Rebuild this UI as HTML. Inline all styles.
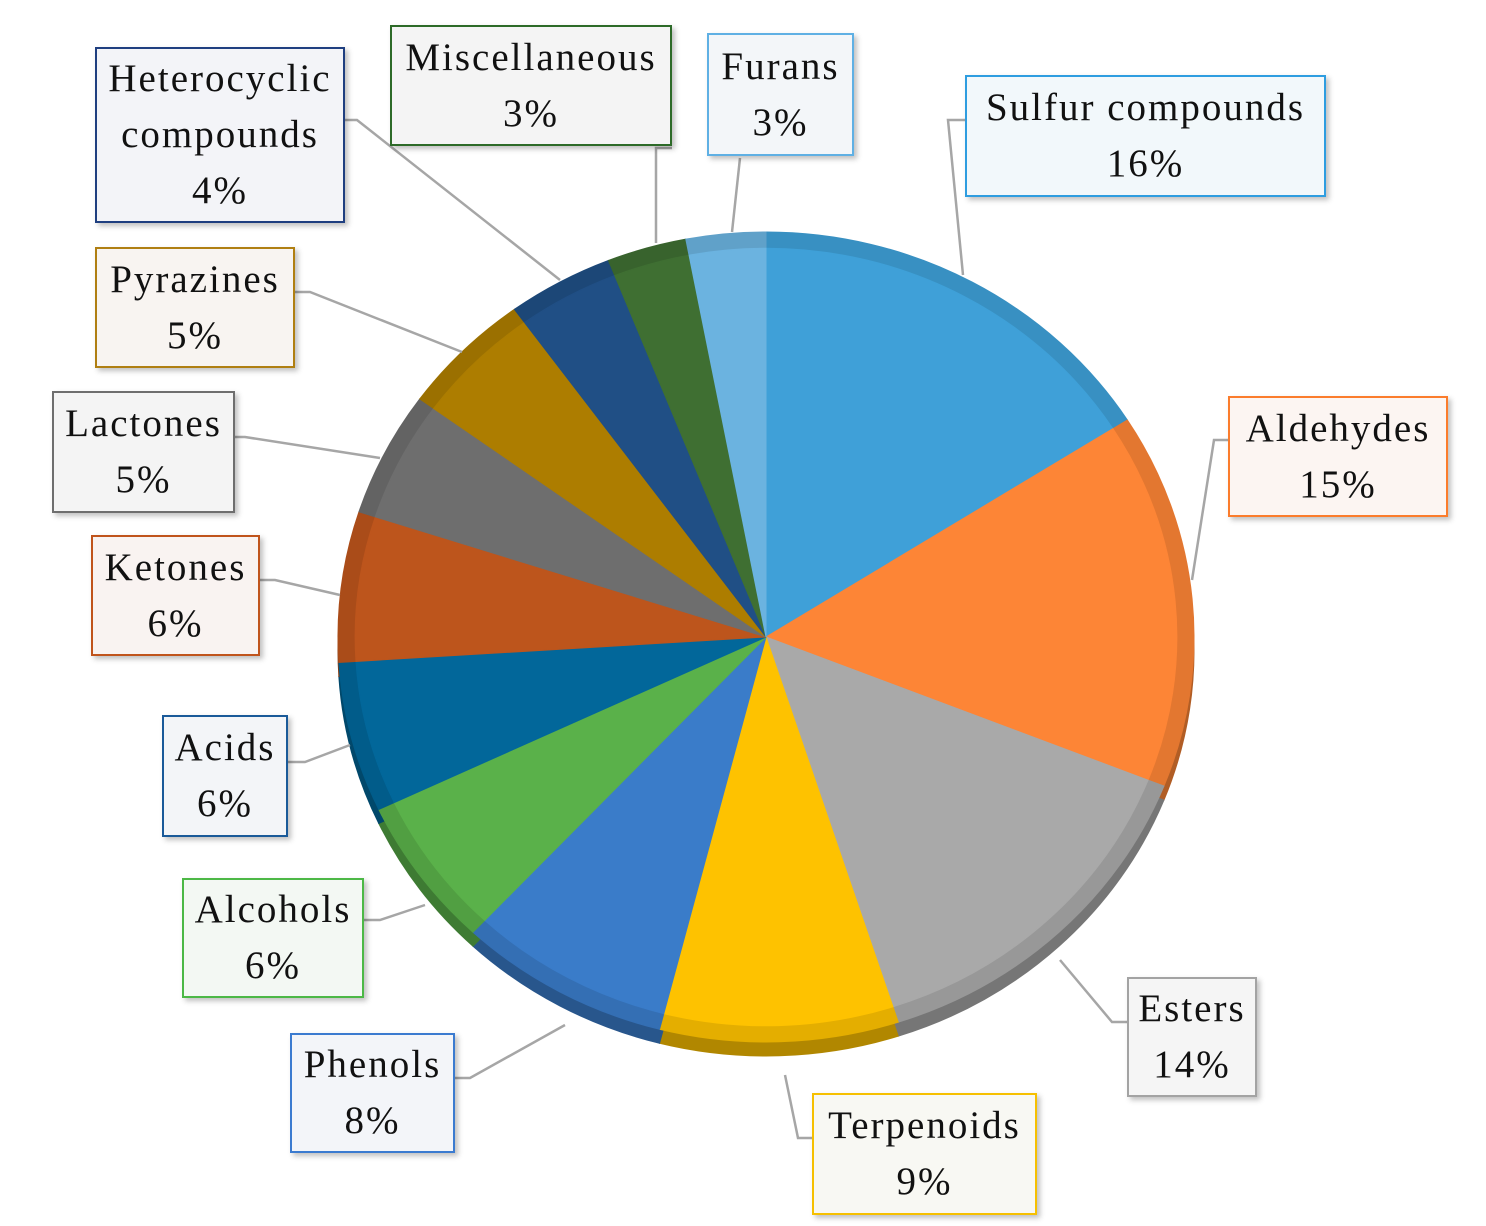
<!DOCTYPE html>
<html><head><meta charset="utf-8">
<style>
html,body{margin:0;padding:0;background:#fff;}
#c{position:relative;width:1486px;height:1226px;overflow:hidden;}
.b{position:absolute;box-sizing:border-box;border:2.5px solid;font-family:"Liberation Serif",serif;font-size:39px;letter-spacing:2px;line-height:56px;text-align:center;color:#111;box-shadow:3px 3px 5px rgba(0,0,0,0.25);display:flex;flex-direction:column;justify-content:center;white-space:nowrap;}
svg{position:absolute;left:0;top:0;}
</style></head><body><div id="c">
<svg id="s" width="1486" height="1226"></svg>
<div class="b" style="left:95px;top:47px;width:250px;height:176px;border-color:#1f3f80;background:#f3f4f8">Heterocyclic<br>compounds<br>4%</div>
<div class="b" style="left:390px;top:25px;width:282px;height:121px;border-color:#2d6a28;background:#f4f4f4">Miscellaneous<br>3%</div>
<div class="b" style="left:707px;top:33px;width:147px;height:123px;border-color:#5fb0e4;background:#f3f6f9">Furans<br>3%</div>
<div class="b" style="left:965px;top:75px;width:361px;height:122px;border-color:#2e9de0;background:#f2f8fb">Sulfur compounds<br>16%</div>
<div class="b" style="left:1228px;top:396px;width:220px;height:121px;border-color:#fb7c2c;background:#fcf5f2">Aldehydes<br>15%</div>
<div class="b" style="left:1127px;top:977px;width:130px;height:120px;border-color:#a3a3a3;background:#f5f5f5">Esters<br>14%</div>
<div class="b" style="left:812px;top:1093px;width:225px;height:122px;border-color:#f6c000;background:#f8f8f3">Terpenoids<br>9%</div>
<div class="b" style="left:290px;top:1033px;width:165px;height:120px;border-color:#3b7bd0;background:#f3f5f9">Phenols<br>8%</div>
<div class="b" style="left:182px;top:878px;width:182px;height:120px;border-color:#4cb846;background:#f3f8f3">Alcohols<br>6%</div>
<div class="b" style="left:162px;top:715px;width:126px;height:122px;border-color:#1a5a99;background:#f3f5f8">Acids<br>6%</div>
<div class="b" style="left:91px;top:535px;width:169px;height:121px;border-color:#c0541c;background:#f9f3f1">Ketones<br>6%</div>
<div class="b" style="left:52px;top:391px;width:183px;height:122px;border-color:#6e6e6e;background:#f4f4f4">Lactones<br>5%</div>
<div class="b" style="left:95px;top:247px;width:200px;height:121px;border-color:#b07f12;background:#f8f4f1">Pyrazines<br>5%</div>
</div>
<script>
var s=document.getElementById('s'),NS='http://www.w3.org/2000/svg';
function el(t,a){var e=document.createElementNS(NS,t);for(var k in a)e.setAttribute(k,a[k]);s.appendChild(e);return e;}
var cx=766,cy=637,rx=428,ry=405;
var d=[[16,'#3fa0d8'],[15,'#fd8536'],[14,'#a9a9a9'],[9,'#fec200'],[8,'#3a7cc9'],[6,'#5ab14a'],[6,'#02679a'],[6,'#bd551c'],[5,'#6e6e6e'],[5,'#ad7d00'],[4,'#204f85'],[3,'#3f6f32'],[3,'#6bb3e0']];
function dark(c,f){var n=parseInt(c.slice(1),16);var r=(n>>16)*f|0,g=((n>>8)&255)*f|0,b=(n&255)*f|0;return 'rgb('+r+','+g+','+b+')';}
function slices(oy,fn,k){var a=0;d.forEach(function(x){var a0=a,a1=a+x[0]*3.6;a=a1;
var p=function(an){var r=an*Math.PI/180;return [cx+k*rx*Math.sin(r),cy+oy-k*ry*Math.cos(r)];};
var p0=p(a0),p1=p(a1);el('path',{d:'M'+cx+','+(cy+oy)+'L'+p0[0]+','+p0[1]+'A'+(k*rx)+','+(k*ry)+' 0 '+(a1-a0>180?1:0)+' 1 '+p1[0]+','+p1[1]+'Z',fill:fn(x[1]),stroke:fn(x[1]),'stroke-width':1});});}
slices(14,function(c){return dark(c,0.7);},1);
slices(0,function(c){return dark(c,0.9);},1);
slices(0,function(c){return c;},0.96);
var L=[[963,275,948,120,965,120],[732,232,740,158,740,158],[656,243,656,148,672,148],[560,280,357,120,345,120],[462,352,310,292,295,292],[380,458,245,437,235,437],[340,595,275,580,260,580],[350,745,305,762,288,762],[425,905,380,920,364,920],[565,1025,470,1078,455,1078],[785,1075,798,1138,812,1138],[1060,960,1112,1022,1127,1022],[1192,580,1214,440,1228,440]];
L.forEach(function(l){el('polyline',{points:l[0]+','+l[1]+' '+l[2]+','+l[3]+' '+l[4]+','+l[5],fill:'none',stroke:'#a6a6a6','stroke-width':2.5});});
</script>
</body></html>
